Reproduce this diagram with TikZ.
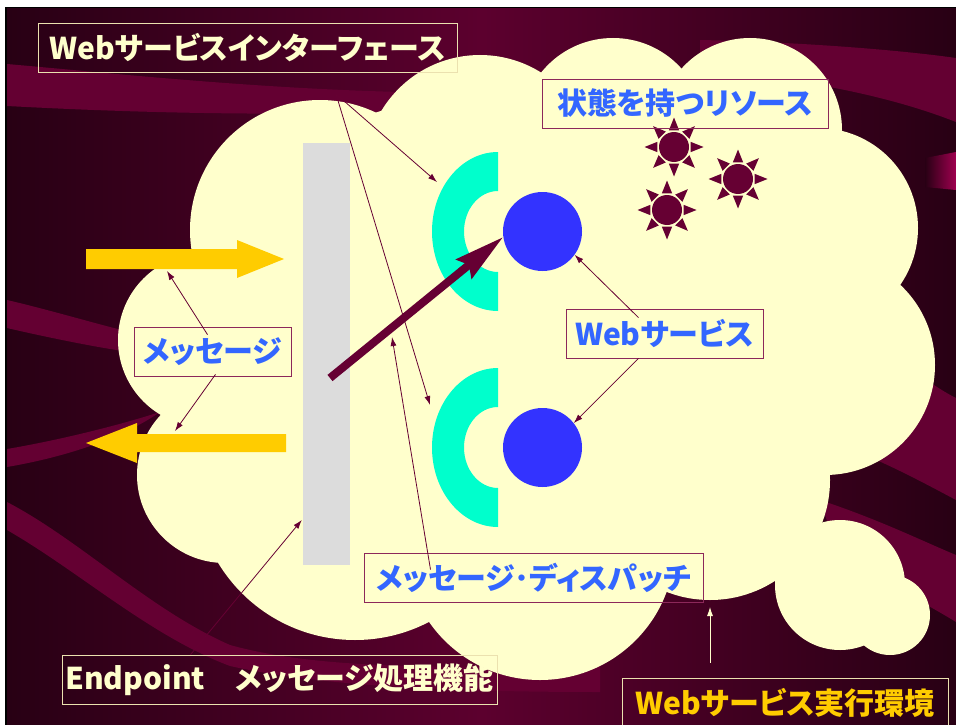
\documentclass[tikz,border=0pt]{standalone}
\usepackage{fontspec}
\setmainfont{Noto Sans CJK JP}[RawFeature=+palt]
\usetikzlibrary{
  arrows.meta,
  positioning
}
\definecolor{bgdark}{RGB}{40, 0, 20}
\definecolor{bgmid}{RGB}{92, 0, 46}
\definecolor{ribbonred}{RGB}{100, 0, 50}
\definecolor{ribbonpink}{RGB}{160, 0, 80}
\definecolor{cloudcream}{RGB}{255, 255, 204}
\definecolor{bargray}{RGB}{220, 220, 220}
\definecolor{ringcyan}{RGB}{0, 255, 204}
\definecolor{svcblue}{RGB}{51, 51, 255}
\definecolor{msggold}{RGB}{255, 204, 0}
\definecolor{wine}{RGB}{102, 0, 51}
\definecolor{tagblue}{RGB}{51, 102, 255}
\definecolor{tagwine}{RGB}{140, 40, 90}
\definecolor{tagframe}{RGB}{235, 225, 175}
\tikzset{
ribbon/.style={
  fill=ribbonred
},
puff/.style={
  fill=cloudcream
},
msgarrow/.style={
  fill=msggold
},
paletag/.style={
  draw=tagframe,
  line width=0.8pt,
  text=cloudcream,
  font=\bfseries\fontsize{30}{32}\selectfont,
  minimum height=49pt,
  inner sep=0pt
},
bluetag/.style={
  draw=tagwine,
  line width=0.8pt,
  text=tagblue,
  font=\bfseries\fontsize{30}{32}\selectfont,
  minimum height=49pt,
  inner sep=0pt
},
svcball/.style={
  circle,
  fill=svcblue,
  minimum size=79pt,
  inner sep=0pt
},
pointer/.style={
  -{Latex[length=9pt,width=6pt]},
  line width=0.8pt,
  draw=wine
},
dispatcharrow/.style={
  -{Stealth[length=50pt,width=24pt,inset=6pt]},
  line width=8pt,
  draw=wine
}
}

\begin{document}
\begin{tikzpicture}[x=1pt,y=-1pt]
\useasboundingbox (0,0) rectangle (956,725);

% slide background
\fill[white] (0,0) rectangle (956,725);
\fill[black] (5,7) rectangle (956,725);
\shade[left color=bgdark, right color=bgdark, middle color=bgmid] (7,9) rectangle (956,725);

% ribbons behind the cloud
\fill[ribbon] (7,64) .. controls (120,74) and (250,88) .. (400,92)
  -- (400,112) .. controls (250,116) and (120,112) .. (7,106) -- cycle;
\fill[ribbon] (7,300) .. controls (50,310) and (100,325) .. (130,332)
  -- (130,352) .. controls (100,348) and (50,338) .. (7,328) -- cycle;
\fill[ribbon] (7,449) .. controls (60,440) and (120,425) .. (160,412)
  .. controls (120,440) and (60,458) .. (7,467) -- cycle;
\fill[ribbon] (7,502) .. controls (80,540) and (150,610) .. (230,645)
  .. controls (320,670) and (450,668) .. (600,665)
  -- (600,692) .. controls (450,692) and (320,686) .. (230,666)
  .. controls (150,636) and (80,572) .. (7,530) -- cycle;
\fill[ribbon] (700,40) .. controls (800,42) and (900,50) .. (956,58)
  -- (956,122) .. controls (900,100) and (820,80) .. (700,70) -- cycle;
\shade[left color=bgdark, right color=ribbonpink] (925,158) .. controls (940,155) .. (956,152)
  -- (956,190) .. controls (940,188) .. (925,187) -- cycle;
\fill[ribbon] (860,330) .. controls (900,360) and (930,385) .. (956,398)
  -- (956,500) .. controls (900,470) and (860,450) .. (820,440) -- cycle;
\fill[ribbon] (820,500) .. controls (880,520) and (920,540) .. (956,555)
  -- (956,622) .. controls (920,600) and (880,580) .. (840,560) -- cycle;

% the cloud
\fill[puff] (320,130) -- (480,80) -- (750,80) -- (850,200) -- (880,350) -- (800,470)
  -- (700,560) -- (540,640) -- (355,600) -- (230,520) -- (170,420) -- (170,320)
  -- (220,200) -- cycle;
\foreach \cx/\cy/\r in {320/230/130, 205/340/87, 225/475/88, 355/480/160,
    540/545/135, 710/480/120, 480/170/115, 613/130/92, 750/130/92,
    818/228/100, 825/365/110, 840/585/65, 890/615/40}
  \fill[puff] (\cx,\cy) circle[radius=\r];

% endpoint bar
\node[fill=bargray, minimum width=47pt, minimum height=422pt, inner sep=0pt] (endpt) at (326.5,354) {};

% interfaces
\foreach \cy in {231.5, 447.5}
  \fill[ringcyan] (498,\cy) ++(0,79.5) arc[start angle=90, end angle=270, x radius=66, y radius=79.5]
    -- (498,\cy-40.5) arc[start angle=270, end angle=90, x radius=34, y radius=40.5] -- cycle;

% services
\node[svcball] (ws1) at (542.5,231.5) {};
\node[svcball] (ws2) at (542.5,447.5) {};

% stateful resources
\foreach \sx/\sy in {674/147, 738/179, 667/210} {
  \begin{scope}[shift={(\sx,\sy)}]
    \fill[wine] (0,0) circle[radius=15];
    \foreach \a in {0,45,...,315}
      \fill[wine] (\a:29.5) -- (\a+17:17.5) -- (\a-17:17.5) -- cycle;
  \end{scope}
}

% incoming and outgoing messages
\fill[msgarrow] (86,249) -- (237,249) -- (237,240) -- (284,259) -- (237,278) -- (237,269) -- (86,269) -- cycle;
\fill[msgarrow] (286,434) -- (137,434) -- (137,423) -- (86,443) -- (137,463) -- (137,452) -- (286,452) -- cycle;

% dispatch to the service
\coordinate (dispstart) at (330,378);
\draw[dispatcharrow] (dispstart) -- (ws1.188);

% labels
\node[paletag, minimum width=419pt] (ifc) at (247.5,47.5) {Webサービスインターフェース};
\node[bluetag, minimum width=286pt] (state) at (685,103.5) {状態を持つリソース};
\node[bluetag, minimum width=197pt] (svc) at (664.5,333.5) {Webサービス};
\node[bluetag, minimum width=157pt] (msg) at (212.5,351.5) {メッセージ};
\node[bluetag, minimum width=339pt] (disp) at (533.5,577.5) {メッセージ･ディスパッチ};
\node[paletag, minimum width=435pt] (endp) at (279.5,679.5) {Endpoint　メッセージ処理機能};
\node[paletag, text=msggold, minimum width=326pt] (host) at (785,702.5) {Webサービス実行環境};

% pointers
\coordinate (ifcfoot) at (336,94);
\coordinate (ring1tip) at (437,182);
\coordinate (ring2tip) at (430,405);
\coordinate (inflow) at (167,271);
\coordinate (outflow) at (175,431);
\coordinate (handoff) at (392,337);
\coordinate (cloudbase) at (710,607);
\draw[pointer] (ifcfoot) -- (ring1tip);
\draw[pointer] (ifcfoot) -- (ring2tip);
\draw[pointer] ([shift={(-5,8)}]msg.north) -- (inflow);
\draw[pointer] ([shift={(3,-2)}]msg.south) -- (outflow);
\draw[pointer] ([shift={(-26,9)}]svc.north) -- (ws1.-36);
\draw[pointer] ([shift={(-26,0)}]svc.south) -- (ws2.38);
\draw[pointer] ([shift={(-103,17)}]disp.north) -- (handoff);
\draw[pointer] ([shift={(-89,0)}]endp.north) -- ([shift={(-1,166)}]endpt.west);
\draw[pointer, draw=cloudcream] ([shift={(-75,-15)}]host.north) -- (cloudbase);
\end{tikzpicture}
\end{document}
